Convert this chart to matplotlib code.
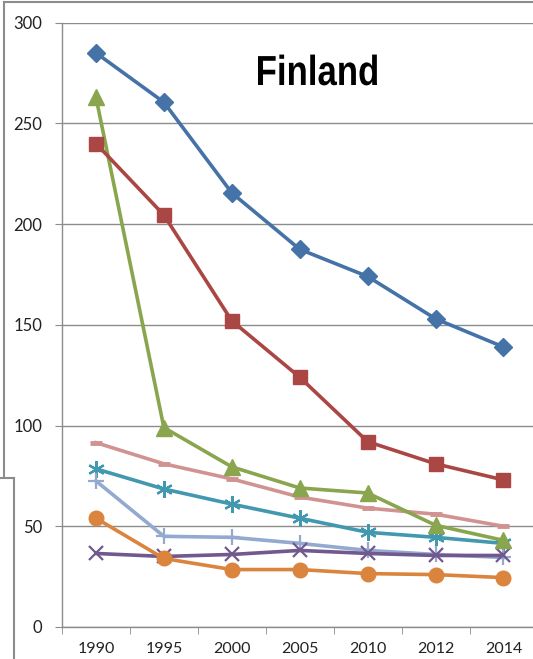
import matplotlib.pyplot as plt
from matplotlib.lines import Line2D
from matplotlib.textpath import TextPath
from matplotlib.patches import PathPatch
from matplotlib.font_manager import FontProperties
from matplotlib.transforms import Affine2D

years = ["1990", "1995", "2000", "2005", "2010", "2012", "2014"]

s_diamond = [285, 260.5, 215.5, 187.5, 174, 153, 139]
s_square = [240, 204.5, 152, 124, 92, 81, 73]
s_triangle = [263, 99, 79.5, 69, 66.5, 50.5, 43]
s_x = [36.5, 35, 36, 38, 36.5, 35.5, 35.5]
s_star = [78.5, 68.5, 61, 54, 47, 44.5, 41.5]
s_circle = [54, 34, 28.5, 28.5, 26.5, 26, 24.5]
s_plus = [72.5, 45, 44.5, 41.5, 38, 36, 34.5]
s_dash = [91.5, 81, 73.5, 64.5, 59, 56, 50]

title = "Finland"

if __name__ == "__main__":
    plt.rcParams['font.family'] = ['Lato', 'DejaVu Sans']
    W, H = 533, 659
    fig = plt.figure(figsize=(W / 100, H / 100), dpi=100)
    ax = fig.add_axes([0.1163, 0.0486, 0.892, 0.917])

    x = list(range(len(years)))
    lw = 2.6
    ax.plot(x, s_dash, color='#D19392', lw=lw, marker='_', ms=8, mew=3.5)
    ax.plot(x, s_star, color='#4198AF', lw=lw, marker=(6, 2, 0), ms=12, mew=1.6)
    ax.plot(x, s_plus, color='#93A9CF', lw=lw, marker='+', ms=12, mew=1.6)
    ax.plot(x, s_x, color='#71588F', lw=lw, marker='x', ms=10, mew=1.6)
    ax.plot(x, s_circle, color='#DB843D', lw=lw, marker='o', ms=10.5)
    ax.plot(x, s_triangle, color='#89A54E', lw=lw, marker='^', ms=12)
    ax.plot(x, s_square, color='#AA4643', lw=lw, marker='s', ms=10.5)
    ax.plot(x, s_diamond, color='#4572A7', lw=lw, marker='D', ms=9)

    ax.set_xlim(-0.5, len(years) - 0.5)
    ax.set_ylim(0, 300)
    ax.set_yticks(range(0, 301, 50))
    ax.grid(axis='y', color='#8C8C8C', lw=1)
    ax.set_axisbelow(True)

    ax.set_xticks(x)
    ax.set_xticklabels(years)
    ax.set_xticks([i - 0.5 for i in range(len(years) + 1)], minor=True)
    ax.tick_params(axis='x', which='major', length=0, pad=11, labelsize=11.5, colors='#222222')
    ax.tick_params(axis='x', which='minor', length=5, color='#8C8C8C')
    ax.tick_params(axis='y', length=5, pad=9, labelsize=12, color='#8C8C8C', labelcolor='#222222')

    for side in ['top', 'right']:
        ax.spines[side].set_visible(False)
    for side in ['left', 'bottom']:
        ax.spines[side].set_color('#8C8C8C')
        ax.spines[side].set_linewidth(1)

    # narrow bold title: condensed Liberation Sans path
    fp = FontProperties(family='Liberation Sans', weight='bold')
    tp = TextPath((0, 0), title, size=42, prop=fp)
    bb = tp.get_extents()
    sx = 119 / bb.width
    tr = Affine2D().translate(-bb.x0, 0).scale(sx, 1.0).translate(258, H - 85)
    fig.add_artist(PathPatch(tr.transform_path(tp), color='black', lw=0,
                             transform=fig.dpi_scale_trans.frozen() + Affine2D().scale(0.01)))

    # frame borders of the surrounding chart boxes
    border = dict(color='#8C8C8C', lw=1.5, transform=fig.transFigure)
    fig.add_artist(Line2D([4 / W, 1], [1 - 1.5 / H, 1 - 1.5 / H], **border))
    fig.add_artist(Line2D([4 / W, 4 / W], [1 - 1.5 / H, 1 - 477 / H], **border))
    fig.add_artist(Line2D([0, 14 / W], [1 - 478 / H, 1 - 478 / H], **border))
    fig.add_artist(Line2D([14 / W, 14 / W], [1 - 478 / H, 0], **border))

    fig.savefig("out.png", dpi=100)
